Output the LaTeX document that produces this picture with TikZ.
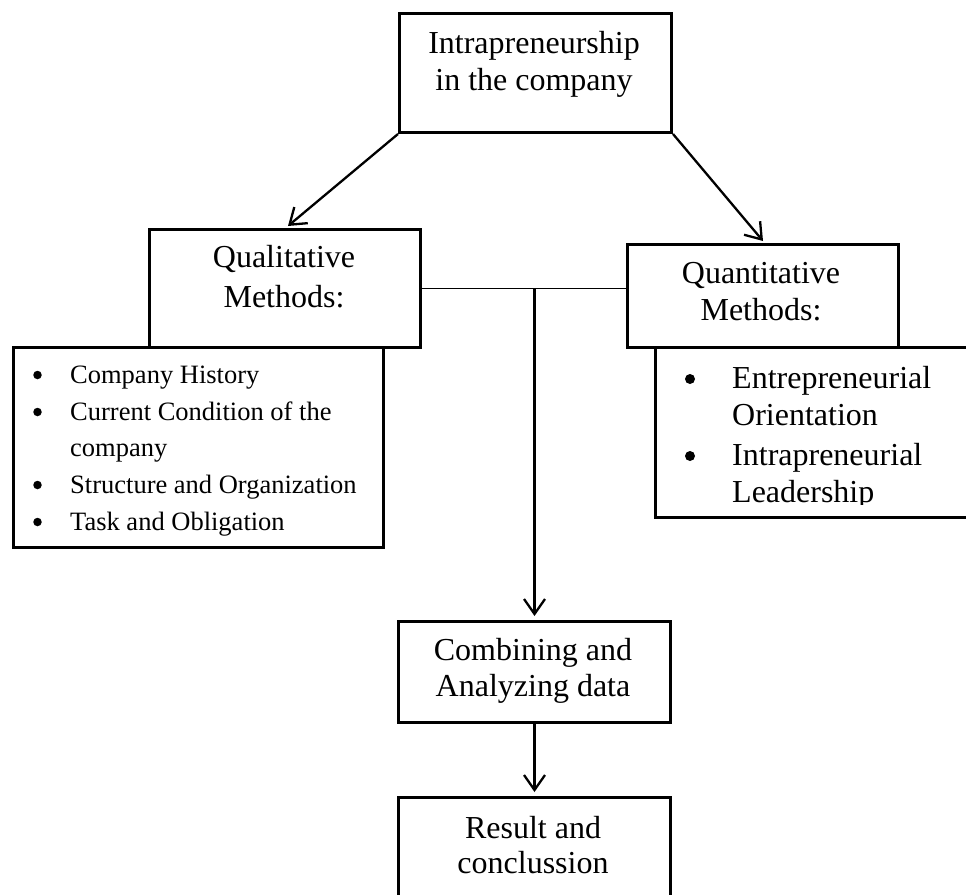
\documentclass[tikz,border=0pt]{standalone}
\usepackage{fontspec}
\setmainfont{Liberation Serif}
\usetikzlibrary{arrows.meta,calc}
\begin{document}
\begin{tikzpicture}[x=1pt,y=-1pt,
  box/.style={draw, line width=3pt, rectangle, inner sep=0pt, anchor=north west},
  big/.style={font=\fontsize{32}{37}\selectfont, inner sep=0pt, anchor=base},
  bigl/.style={font=\fontsize{32}{37}\selectfont, inner sep=0pt, anchor=base west},
  small/.style={font=\fontsize{26.5}{36}\selectfont, inner sep=0pt, anchor=base west},
  sbul/.style={circle, fill, inner sep=0pt, minimum size=8.5pt},
  bbul/.style={circle, fill, inner sep=0pt, minimum size=10pt},
  conn/.style={line width=2.3pt, -{Straight Barb[length=15pt,width=21pt]}},
  link/.style={line width=1.5pt},
]
\path[use as bounding box] (0,0) rectangle (966,894);

% boxes
\node[box, minimum width=272pt, minimum height=119pt] (top) at (398,12) {};
\node[box, minimum width=370pt, minimum height=200pt] (qlist) at (12,346) {};
\node[box, minimum width=330pt, minimum height=170pt] (nlist) at (654,346) {};
\node[box, fill=white, minimum width=271pt, minimum height=118pt] (qual) at (148,228) {};
\node[box, fill=white, minimum width=271pt, minimum height=103pt] (quant) at (626,243) {};
\node[box, minimum width=272pt, minimum height=101pt] (comb) at (397,620) {};
\node[box, minimum width=272pt, minimum height=120pt] (res) at (397,796) {};

% box texts
\node[big] (t1) at (534,53) {Intrapreneurship};
\node[big] (t2) at (534,90) {in the company};
\node[big] (q1) at (284,267) {Qualitative};
\node[big] (q2) at (284,307) {Methods:};
\node[big] (n1) at (761,283) {Quantitative};
\node[big] (n2) at (761,320) {Methods:};
\node[big] (c1) at (533,660) {Combining and};
\node[big] (c2) at (533,696) {Analyzing data};
\node[big] (r1) at (533,838) {Result and};
\node[big] (r2) at (533,873) {conclussion};

% qualitative list
\node[sbul] (qb1) at (37.5,375) {};
\node[small] (ql1) at (70,383) {Company History};
\node[sbul] (qb2) at (37.5,412) {};
\node[small] (ql2) at (70,420) {Current Condition of the};
\node[small] (ql3) at (70,456) {company};
\node[sbul] (qb3) at (37.5,485) {};
\node[small] (ql4) at (70,493) {Structure and Organization};
\node[sbul] (qb4) at (37.5,522) {};
\node[small] (ql5) at (70,530) {Task and Obligation};

% quantitative list
\begin{scope}
\clip (654,346) rectangle (980,504);
\node[bbul] (nb1) at (690,379) {};
\node[bigl] (nl1) at (732,388) {Entrepreneurial};
\node[bigl] (nl2) at (732,425) {Orientation};
\node[bbul] (nb2) at (690,456) {};
\node[bigl] (nl3) at (732,465) {Intrapreneurial};
\node[bigl] (nl4) at (732,502) {Leadership};
\end{scope}

% connectors
\draw[conn] (top.south west) -- ($(qual.north)+(3,-2)$);
\draw[conn] (top.south east) -- ($(quant.north)+(0,-2)$);
\draw[link] (qual.east) -- (qual.east -| quant.west);
\coordinate (j) at (qual.east -| comb.north);
\draw[conn, shorten >=4pt] (j) -- (comb.north);
\draw[conn, shorten >=4pt] (comb.south) -- (res.north);
\end{tikzpicture}
\end{document}
